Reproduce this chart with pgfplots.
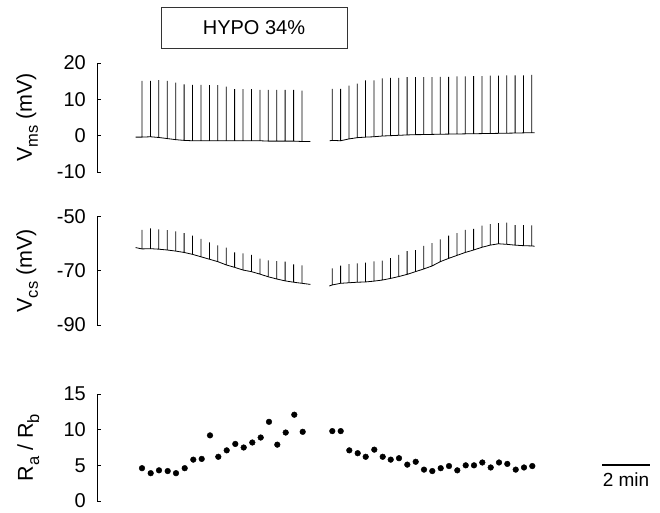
\documentclass[border=0pt]{standalone}
\usepackage{fontspec}
\setmainfont{Liberation Sans}
\usepackage{pgfplots}
\pgfplotsset{compat=1.18}
\newcommand{\sub}[1]{\raisebox{-0.28em}{\fontsize{16.5}{18}\selectfont #1}}
\begin{document}
\begin{tikzpicture}
\useasboundingbox (0pt,0pt) rectangle (660pt,512pt);
\pgfplotsset{
  panel/.style={
    scale only axis, width=563pt, xmin=97, xmax=660,
    axis x line=none, axis y line=left,
    y axis line style={-, line width=0.8pt},
    tick align=inside, major tick length=4pt,
    ytick style={line width=0.8pt, black},
    yticklabel style={font=\fontsize{20}{22}\selectfont, anchor=east, inner sep=0pt, xshift=-11pt},
    every axis y label/.style={at={(axis description cs:-0.1155,0.5)}, anchor=base, rotate=90, font=\fontsize{21.5}{24}\selectfont},
    clip=false,
  },
  trace/.style={black, line width=0.8pt, no markers},
}
% ---------- top panel ----------
\begin{axis}[panel, at={(97pt,340pt)}, anchor=south west, height=109pt,
  ymin=-10, ymax=20, ytick={-10,0,10,20}, yticklabels={-10,0,10,20},
  ylabel={V\sub{ms} (mV)}]
\addplot[trace] coordinates {
(135.6,-0.4)
(142.0,-0.4)(142.0,15.1)(142.0,-0.4)
(150.4,-0.3)(150.4,15.1)(150.4,-0.3)
(158.8,-0.5)(158.8,15.3)(158.8,-0.5)
(167.3,-0.8)(167.3,15.1)(167.3,-0.8)
(175.7,-1.1)(175.7,14.6)(175.7,-1.1)
(184.1,-1.3)(184.1,14.1)(184.1,-1.3)
(192.5,-1.4)(192.5,14.0)(192.5,-1.4)
(200.9,-1.4)(200.9,14.0)(200.9,-1.4)
(209.4,-1.4)(209.4,13.9)(209.4,-1.4)
(217.8,-1.4)(217.8,13.9)(217.8,-1.4)
(226.2,-1.4)(226.2,13.5)(226.2,-1.4)
(234.6,-1.4)(234.6,12.8)(234.6,-1.4)
(243.0,-1.4)(243.0,12.8)(243.0,-1.4)
(251.5,-1.4)(251.5,12.8)(251.5,-1.4)
(259.9,-1.4)(259.9,12.6)(259.9,-1.4)
(268.3,-1.5)(268.3,12.6)(268.3,-1.5)
(276.7,-1.5)(276.7,12.6)(276.7,-1.5)
(285.1,-1.5)(285.1,12.6)(285.1,-1.5)
(293.6,-1.5)(293.6,12.6)(293.6,-1.5)
(302.0,-1.6)(302.0,12.4)(302.0,-1.6)
(310.3,-1.6)
};
\addplot[trace] coordinates {
(329.7,-1.4)
(332.3,-1.3)(332.3,12.9)(332.3,-1.3)
(340.6,-1.4)(340.6,12.9)(340.6,-1.4)
(348.9,-0.9)(348.9,13.8)(348.9,-0.9)
(357.2,-0.55)(357.2,14.3)(357.2,-0.55)
(365.5,-0.4)(365.5,15.2)(365.5,-0.4)
(373.9,-0.3)(373.9,15.2)(373.9,-0.3)
(382.2,-0.1)(382.2,15.8)(382.2,-0.1)
(390.5,0.0)(390.5,15.9)(390.5,0.0)
(398.8,0.1)(398.8,15.9)(398.8,0.1)
(407.1,0.2)(407.1,16.1)(407.1,0.2)
(415.4,0.28)(415.4,16.1)(415.4,0.28)
(423.7,0.3)(423.7,16.1)(423.7,0.3)
(432.0,0.35)(432.0,16.1)(432.0,0.35)
(440.3,0.4)(440.3,16.2)(440.3,0.4)
(448.6,0.43)(448.6,16.2)(448.6,0.43)
(456.9,0.46)(456.9,16.3)(456.9,0.46)
(465.3,0.5)(465.3,16.3)(465.3,0.5)
(473.6,0.53)(473.6,16.4)(473.6,0.53)
(481.9,0.57)(481.9,16.4)(481.9,0.57)
(490.2,0.6)(490.2,16.5)(490.2,0.6)
(498.5,0.64)(498.5,16.5)(498.5,0.64)
(506.8,0.68)(506.8,16.6)(506.8,0.68)
(515.1,0.72)(515.1,16.6)(515.1,0.72)
(523.4,0.77)(523.4,16.6)(523.4,0.77)
(531.7,0.83)(531.7,16.7)(531.7,0.83)
(534.7,0.8)
};
\end{axis}
% ---------- middle panel ----------
\begin{axis}[panel, at={(97pt,187pt)}, anchor=south west, height=108.3pt,
  ymin=-90, ymax=-50, ytick={-90,-70,-50}, yticklabels={-90,-70,-50},
  ylabel={V\sub{cs} (mV)}]
\addplot[trace] coordinates {
(135.6,-61.4)
(142.0,-61.9)(142.0,-54.9)(142.0,-61.9)
(150.4,-61.8)(150.4,-54.3)(150.4,-61.8)
(158.8,-62.0)(158.8,-54.7)(158.8,-62.0)
(167.3,-62.3)(167.3,-55.0)(167.3,-62.3)
(175.7,-62.7)(175.7,-55.4)(175.7,-62.7)
(184.1,-63.2)(184.1,-56.1)(184.1,-63.2)
(192.5,-63.9)(192.5,-57.0)(192.5,-63.9)
(200.9,-64.8)(200.9,-58.2)(200.9,-64.8)
(209.4,-65.7)(209.4,-59.5)(209.4,-65.7)
(217.8,-66.6)(217.8,-60.6)(217.8,-66.6)
(226.2,-67.8)(226.2,-61.4)(226.2,-67.8)
(234.6,-68.7)(234.6,-63.2)(234.6,-68.7)
(243.0,-69.7)(243.0,-63.5)(243.0,-69.7)
(251.5,-70.3)(251.5,-64.1)(251.5,-70.3)
(259.9,-71.2)(259.9,-65.5)(259.9,-71.2)
(268.3,-72.2)(268.3,-66.1)(268.3,-72.2)
(276.7,-73.0)(276.7,-66.4)(276.7,-73.0)
(285.1,-73.7)(285.1,-66.6)(285.1,-73.7)
(293.6,-74.2)(293.6,-67.6)(293.6,-74.2)
(302.0,-74.6)(302.0,-68.0)(302.0,-74.6)
(310.3,-75.0)
};
\addplot[trace] coordinates {
(329.3,-75.6)
(332.3,-75.2)(332.3,-69.1)(332.3,-75.2)
(340.6,-74.6)(340.6,-68.1)(340.6,-74.6)
(348.9,-74.4)(348.9,-67.5)(348.9,-74.4)
(357.2,-74.2)(357.2,-67.2)(357.2,-74.2)
(365.5,-74.1)(365.5,-67.0)(365.5,-74.1)
(373.9,-73.8)(373.9,-66.5)(373.9,-73.8)
(382.2,-73.4)(382.2,-66.2)(382.2,-73.4)
(390.5,-72.8)(390.5,-65.3)(390.5,-72.8)
(398.8,-72.1)(398.8,-64.1)(398.8,-72.1)
(407.1,-71.3)(407.1,-62.7)(407.1,-71.3)
(415.4,-70.3)(415.4,-62.3)(415.4,-70.3)
(423.7,-69.3)(423.7,-60.8)(423.7,-69.3)
(432.0,-68.2)(432.0,-59.8)(432.0,-68.2)
(440.3,-66.6)(440.3,-58.4)(440.3,-66.6)
(448.6,-65.4)(448.6,-57.0)(448.6,-65.4)
(456.9,-64.3)(456.9,-56.1)(456.9,-64.3)
(465.3,-63.2)(465.3,-54.9)(465.3,-63.2)
(473.6,-62.3)(473.6,-54.5)(473.6,-62.3)
(481.9,-61.3)(481.9,-53.3)(481.9,-61.3)
(490.2,-60.5)(490.2,-52.7)(490.2,-60.5)
(498.5,-60.0)(498.5,-52.4)(498.5,-60.0)
(506.8,-60.2)(506.8,-52.2)(506.8,-60.2)
(515.1,-60.5)(515.1,-53.1)(515.1,-60.5)
(523.4,-60.7)(523.4,-53.1)(523.4,-60.7)
(531.7,-60.8)(531.7,-53.2)(531.7,-60.8)
(534.7,-60.9)
};
\end{axis}
% ---------- bottom panel ----------
\begin{axis}[panel, at={(97pt,11pt)}, anchor=south west, height=107pt,
  ymin=0, ymax=15, ytick={0,5,10,15}, yticklabels={0,5,10,15},
  every axis y label/.append style={at={(axis description cs:-0.1137,0.5)}},
  ylabel={R\sub{a} / R\sub{b}}]
\addplot[only marks, mark=*, mark size=2.85pt, black] coordinates {
(142.0,4.6)(150.7,3.9)(159.0,4.3)(167.7,4.2)(176.0,3.9)
(184.7,4.6)(193.3,5.8)(201.7,5.9)(210.0,9.2)(218.3,6.2)
(226.7,7.1)(235.3,8.0)(243.7,7.5)(252.3,8.2)(260.7,8.9)
(269.0,11.1)(277.3,7.9)(285.7,9.6)(294.3,12.1)(302.7,9.7)
(332.3,9.8)(340.7,9.8)(349.3,7.1)(357.7,6.7)(365.7,6.2)
(374.3,7.2)(382.7,6.2)(390.7,5.8)(399.0,6.0)(407.3,5.1)
(415.7,5.5)(424.0,4.4)(432.3,4.2)(440.7,4.6)(449.0,4.9)
(457.3,4.3)(465.7,5.0)(474.0,5.0)(482.3,5.4)(490.7,4.7)
(499.0,5.4)(507.3,5.2)(515.7,4.4)(524.0,4.7)(532.3,4.9)
};
\addplot[black, line width=2pt, no markers] coordinates {(602,5.0) (650,5.0)};
\node[font=\fontsize{19}{21}\selectfont, anchor=base, inner sep=0pt] at (axis cs:626,2.0) {2 min};
\end{axis}
% ---------- condition box ----------
\draw[line width=0.7pt, black!80] (161pt,464pt) rectangle (347pt,505pt);
\node[font=\fontsize{20}{22}\selectfont, anchor=center, inner sep=0pt] at (254pt,484.5pt) {HYPO 34\%};
\end{tikzpicture}
\end{document}
